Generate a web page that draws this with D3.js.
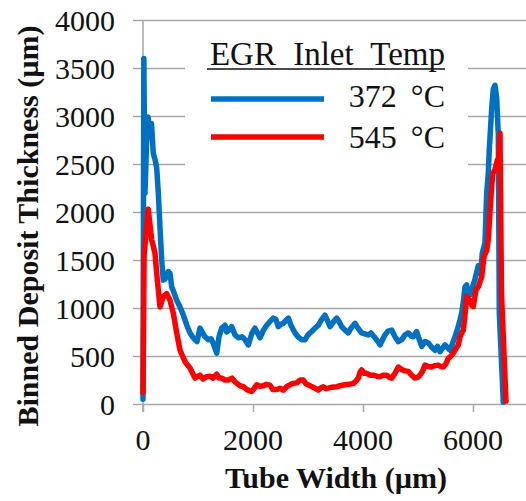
<!DOCTYPE html>
<html>
<head>
<meta charset="utf-8">
<script src="https://cdn.jsdelivr.net/npm/d3@7"></script>
<style>
  html, body { margin: 0; padding: 0; background: #fff; }
  svg { display: block; }
  text { font-family: "Liberation Serif", "Times New Roman", serif; fill: #111; }
</style>
</head>
<body>
<svg id="chart" width="526" height="501"></svg>
<script>
// Binned deposit thickness across the tube width for two EGR inlet temperatures.
const yTicks = [0, 500, 1000, 1500, 2000, 2500, 3000, 3500, 4000];
const xTicks = [0, 2000, 4000, 6000];

const legendTitle = "EGR Inlet Temp";
const seriesNames = ["372 °C", "545 °C"];
const seriesColors = ["#0070C0", "#FF0000"];

// 372 °C: position across the tube (µm) and binned thickness (µm)
const width372 = [0, 15, 36, 64, 91, 127, 155, 187, 218, 249, 278, 309, 340, 369, 400, 431, 460, 491, 522, 564,
  613, 673, 718, 764, 809, 855, 900, 945, 982, 1036, 1127, 1187, 1236, 1278, 1340, 1382, 1431, 1491, 1522, 1564,
  1613, 1673, 1733, 1800, 1855, 1915, 1982, 2036, 2091, 2127, 2182, 2249, 2309, 2369, 2418, 2460, 2509, 2551, 2600, 2642,
  2691, 2764, 2818, 2885, 2945, 3000, 3067, 3127, 3187, 3236, 3309, 3345, 3400, 3455, 3522, 3564, 3613, 3673, 3733, 3782,
  3855, 3909, 3976, 4036, 4096, 4145, 4218, 4273, 4309, 4364, 4400, 4455, 4522, 4582, 4642, 4704, 4764, 4824, 4873, 4915,
  4976, 5018, 5067, 5127, 5187, 5236, 5309, 5355, 5400, 5445, 5491, 5536, 5582, 5627, 5673, 5718, 5764, 5795, 5824, 5855,
  5885, 5915, 5945, 5976, 6036, 6096, 6140, 6169, 6218, 6249, 6278, 6296, 6340, 6369, 6400, 6431, 6460, 6478, 6551];
const thick372 = [50, 3600, 2200, 2700, 2990, 2850, 2920, 2610, 2550, 2460, 2200, 1840, 1500, 1290, 1300, 1340, 1380, 1360, 1220, 1160,
  1080, 1010, 950, 875, 800, 740, 700, 670, 650, 790, 700, 670, 680, 630, 530, 700, 790, 820, 750, 770,
  805, 720, 690, 700, 670, 615, 740, 790, 730, 690, 760, 820, 860, 895, 880, 805, 830, 840, 870, 895,
  820, 740, 700, 670, 670, 720, 755, 790, 820, 870, 925, 880, 805, 850, 895, 860, 805, 770, 740, 790,
  840, 790, 740, 730, 720, 740, 690, 650, 615, 680, 720, 760, 770, 700, 650, 670, 720, 740, 710, 700,
  755, 680, 600, 650, 635, 600, 560, 600, 545, 580, 615, 590, 560, 630, 700, 780, 875, 950, 1065, 1220,
  1240, 1150, 1135, 1190, 1300, 1440, 1360, 1570, 1680, 2200, 2400, 2650, 3080, 3280, 3320, 3180, 2800, 950, 20];

// 545 °C: position across the tube (µm) and binned thickness (µm)
const width545 = [0, 20, 95, 158, 218, 249, 309, 369, 431, 491, 551, 613, 673, 764, 855, 945, 1036, 1091, 1158, 1218,
  1273, 1340, 1382, 1431, 1491, 1551, 1618, 1673, 1764, 1824, 1891, 1976, 2018, 2067, 2127, 2187, 2236, 2309, 2364, 2431,
  2491, 2551, 2612, 2673, 2727, 2795, 2855, 2915, 2964, 3036, 3109, 3187, 3236, 3278, 3327, 3369, 3436, 3522, 3582, 3673,
  3745, 3824, 3873, 3915, 3945, 3976, 4018, 4067, 4127, 4187, 4249, 4309, 4364, 4431, 4473, 4522, 4582, 4642, 4704, 4764,
  4824, 4885, 4945, 5000, 5036, 5082, 5127, 5187, 5249, 5309, 5369, 5418, 5460, 5509, 5551, 5600, 5642, 5691, 5733, 5764,
  5795, 5824, 5855, 5885, 5915, 5945, 5976, 6005, 6055, 6096, 6158, 6200, 6249, 6278, 6322, 6358, 6400, 6442, 6460, 6491,
  6518, 6600];
const thick545 = [120, 1550, 2030, 1710, 1570, 1360, 1010, 1120, 1150, 1080, 945, 740, 560, 440, 375, 270, 300, 260, 285, 290,
  270, 310, 270, 270, 250, 250, 270, 230, 190, 180, 150, 130, 160, 200, 185, 190, 205, 195, 150, 150,
  165, 145, 180, 200, 215, 220, 250, 250, 210, 190, 170, 145, 170, 180, 160, 165, 175, 180, 190, 200,
  205, 215, 240, 270, 330, 355, 320, 320, 300, 300, 290, 285, 300, 300, 280, 270, 320, 385, 360, 345,
  340, 300, 270, 280, 300, 340, 405, 390, 385, 400, 405, 390, 385, 420, 475, 500, 530, 580, 615, 700,
  740, 770, 930, 1120, 1100, 1080, 1030, 1015, 1190, 1220, 1325, 1535, 1600, 1710, 2125, 2400, 2440, 2540, 2480, 2820,
  1150, 30];

const svg = d3.select("#chart");
const x = d3.scaleLinear().domain([0, 7000]).range([143, 528]);
const y = d3.scaleLinear().domain([0, 4000]).range([404, 20]);
const gridColor = "#a6a6a6";

// horizontal gridlines (also serve as y ticks, extending left of the axis)
const yAxis = d3.axisLeft(y).tickValues(yTicks).tickSize(-(526 - 133)).tickFormat("").tickSizeOuter(0);
const yG = svg.append("g").attr("transform", "translate(133,0)").call(yAxis);
yG.select(".domain").remove();
yG.selectAll(".tick line").attr("stroke", gridColor).attr("stroke-width", 1.5);

// y tick labels
svg.append("g").selectAll("text").data(yTicks).join("text")
  .attr("x", 115).attr("y", d => y(d)).attr("dy", "0.35em")
  .attr("text-anchor", "end").attr("font-size", 30)
  .text(d => d);

// x axis ticks pointing down
const xAxis = d3.axisBottom(x).tickValues(xTicks).tickSize(8).tickFormat("").tickSizeOuter(0);
const xG = svg.append("g").attr("transform", `translate(0,${y(0)})`).call(xAxis);
xG.select(".domain").remove();
xG.selectAll(".tick line").attr("stroke", gridColor).attr("stroke-width", 1.5);

// vertical axis line
svg.append("line").attr("x1", x(0)).attr("x2", x(0)).attr("y1", y(4000)).attr("y2", y(0) + 8)
  .attr("stroke", gridColor).attr("stroke-width", 1.5);

// x tick labels
svg.append("g").selectAll("text").data(xTicks).join("text")
  .attr("x", d => x(d)).attr("y", 450)
  .attr("text-anchor", "middle").attr("font-size", 30)
  .text(d => d);

// axis titles
svg.append("text").attr("x", 336).attr("y", 488).attr("text-anchor", "middle")
  .attr("font-size", 30).attr("font-weight", "bold").text("Tube Width (µm)");
svg.append("text").attr("transform", "translate(38,226) rotate(-90)").attr("text-anchor", "middle")
  .attr("font-size", 30).attr("font-weight", "bold").text("Binned Deposit Thickness (µm)");

// legend background
svg.append("rect").attr("x", 185).attr("y", 30).attr("width", 283).attr("height", 160).attr("fill", "#fff");

// data lines
const line = d3.line().x(d => x(d[0])).y(d => y(d[1]));
const series = [d3.zip(width372, thick372), d3.zip(width545, thick545)];
svg.append("g").selectAll("path").data(series).join("path")
  .attr("d", line)
  .attr("fill", "none")
  .attr("stroke", (d, i) => seriesColors[i])
  .attr("stroke-width", 5.5)
  .attr("stroke-linejoin", "round")
  .attr("stroke-linecap", "round");

// legend
const lg = svg.append("g");
lg.append("text").attr("x", 445).attr("y", 65).attr("text-anchor", "end")
  .attr("font-size", 33).attr("word-spacing", 9).text(legendTitle);
lg.append("line").attr("x1", 207).attr("x2", 445).attr("y1", 69).attr("y2", 69)
  .attr("stroke", "#111").attr("stroke-width", 1.5);
const rows = lg.selectAll("g.row").data(seriesNames).join("g").attr("class", "row");
rows.append("line").attr("x1", 211).attr("x2", 324)
  .attr("y1", (d, i) => 99 + i * 38).attr("y2", (d, i) => 99 + i * 38)
  .attr("stroke", (d, i) => seriesColors[i]).attr("stroke-width", 5.5);
rows.append("text").attr("x", 445).attr("y", (d, i) => 107 + i * 41)
  .attr("text-anchor", "end").attr("font-size", 32).attr("word-spacing", 6)
  .text(d => d);
</script>
</body>
</html>
